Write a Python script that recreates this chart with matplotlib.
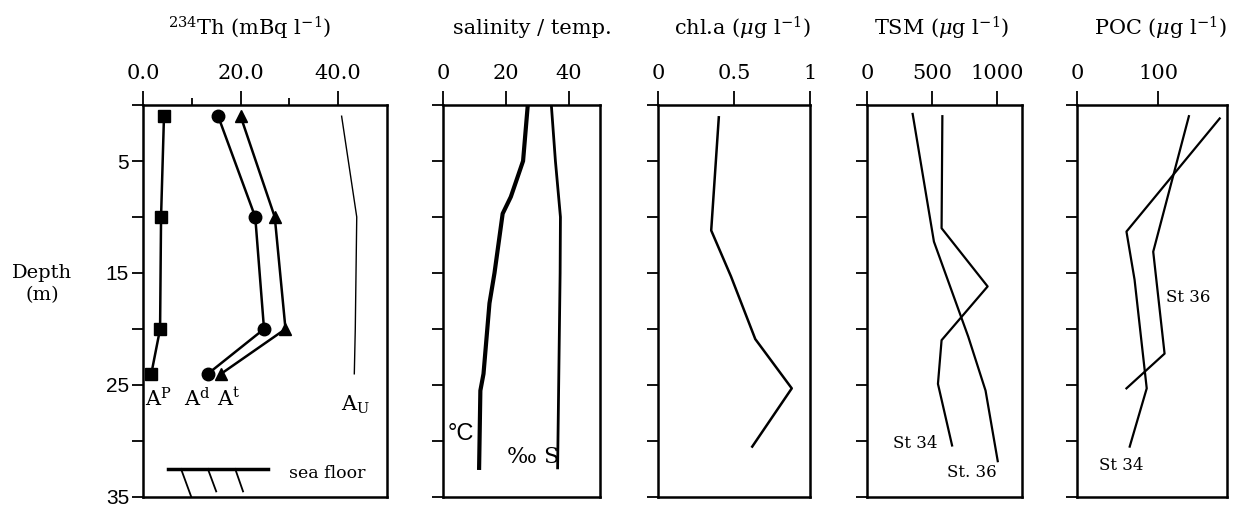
import matplotlib
matplotlib.use("Agg")
import matplotlib.pyplot as plt
from matplotlib.lines import Line2D

plt.rcParams["mathtext.fontset"] = "dejavuserif"

# ---------------- data ----------------
# 234Th panel
th_depth = [1, 10, 20, 24]
th_ap = [4.3, 3.7, 3.5, 1.7]
th_ad = [15.4, 23.0, 24.8, 13.3]
th_at = [20.0, 27.0, 29.2, 16.0]
au_depth = [1, 10, 20, 24]
au_val = [40.7, 43.8, 43.5, 43.3]

# salinity / temperature
temp_depth = [0, 5, 8.2, 9.7, 15, 17.7, 24, 25.5, 32.4]
temp_val = [27.0, 25.5, 21.6, 19.0, 16.4, 14.8, 12.9, 11.9, 11.5]
sal_depth = [0, 5, 10, 15, 32.4]
sal_val = [34.5, 35.8, 37.4, 37.3, 36.5]

# chl.a
chl_depth = [1.1, 11.2, 15.3, 20.9, 25.3, 30.5]
chl_val = [0.40, 0.35, 0.48, 0.64, 0.88, 0.62]

# TSM
tsm34_depth = [1, 11, 16.2, 21, 24.9, 30.4]
tsm34_val = [581, 575, 930, 575, 547, 656]
tsm36_depth = [0.8, 12.2, 20.7, 25.5, 31.8]
tsm36_val = [352, 516, 781, 914, 1008]

# POC
poc36_depth = [1, 13.1, 22.2, 25.3]
poc36_val = [138, 94, 108, 61]
poc34_depth = [1.2, 11.3, 15.6, 25.3, 30.5]
poc34_val = [176, 61, 71, 86, 65]

# sea floor symbol (depth of line, x extent, hatch strokes)
floor_depth = 32.5
floor_x = [5.1, 25.7]
floor_hatch = [(7.8, 9.9, 35.0), (13.3, 15.0, 34.5), (18.9, 20.5, 34.5)]

depth_ticks = [0, 5, 10, 15, 20, 25, 30, 35]

SERIF = "DejaVu Serif"
SANS = "Liberation Sans"

# ---------------- layout ----------------
W, H = 1240, 508
fig = plt.figure(figsize=(W / 100, H / 100), dpi=100)


def box(left, right, top=105, bottom=497):
    return [left / W, 1 - bottom / H, (right - left) / W, (bottom - top) / H]


def style(ax, xlim, major, minor=None, ylabels=False):
    ax.set_xlim(*xlim)
    ax.set_ylim(35, 0)
    ax.xaxis.tick_top()
    ax.set_xticks(major)
    if minor:
        ax.set_xticks(minor, minor=True)
    ax.set_yticks(depth_ticks)
    for s in ax.spines.values():
        s.set_linewidth(1.8)
    ax.tick_params(axis="x", which="major", direction="out", length=10, width=1.3,
                   pad=6, labelsize=15)
    ax.tick_params(axis="x", which="minor", direction="out", length=5, width=1.3)
    ax.tick_params(axis="y", direction="out", length=8, width=1.3, labelsize=15,
                   pad=2, labelleft=ylabels)
    for t in ax.get_xticklabels():
        t.set_fontfamily(SERIF)
    for t in ax.get_yticklabels():
        t.set_fontfamily(SANS)


# panel 1: 234Th
ax1 = fig.add_axes(box(143, 387))
ax1.plot(th_ap, th_depth, "-s", color="black", lw=1.8, ms=8)
ax1.plot(th_ad, th_depth, "-o", color="black", lw=1.8, ms=9)
ax1.plot(th_at, th_depth, "-^", color="black", lw=1.8, ms=9)
ax1.plot(au_val, au_depth, "-", color="black", lw=1.0)
style(ax1, (0, 50), [0, 20, 40], [10, 30], ylabels=True)
ax1.set_xticklabels(["0.0", "20.0", "40.0"])
ax1.set_yticklabels(["", "5", "", "15", "", "25", "", "35"])
ax1.text(0.4, 26.9, r"A$^\mathrm{P}$", fontsize=15, family=SERIF)
ax1.text(8.5, 26.9, r"A$^\mathrm{d}$", fontsize=15, family=SERIF)
ax1.text(15.2, 26.9, r"A$^\mathrm{t}$", fontsize=15, family=SERIF)
ax1.text(40.5, 27.3, r"A$_\mathrm{U}$", fontsize=15, family=SERIF)
ax1.add_line(Line2D(floor_x, [floor_depth, floor_depth], color="black", lw=2.5))
for x0, x1, d1 in floor_hatch:
    ax1.add_line(Line2D([x0, x1], [floor_depth, d1], color="black", lw=1.3))
ax1.text(30.0, 33.3, "sea floor", fontsize=12.5, family=SERIF)

# panel 2: salinity / temp
ax2 = fig.add_axes(box(443, 600))
ax2.plot(temp_val, temp_depth, "-", color="black", lw=3.0)
ax2.plot(sal_val, sal_depth, "-", color="black", lw=2.0)
style(ax2, (0, 50), [0, 20, 40])
ax2.text(1.5, 29.9, "°C", fontsize=17, family=SANS)
ax2.text(20.5, 32.0, "‰ S", fontsize=16, family=[SERIF])

# panel 3: chl.a
ax3 = fig.add_axes(box(658, 810))
ax3.plot(chl_val, chl_depth, "-", color="black", lw=1.8)
style(ax3, (0, 1), [0, 0.5, 1])
ax3.set_xticklabels(["0", "0.5", "1"])

# panel 4: TSM
ax4 = fig.add_axes(box(867, 1022))
ax4.plot(tsm34_val, tsm34_depth, "-", color="black", lw=1.6)
ax4.plot(tsm36_val, tsm36_depth, "-", color="black", lw=1.6)
style(ax4, (0, 1195), [0, 500, 1000])
ax4.text(200, 30.6, "St 34", fontsize=12, family=SERIF)
ax4.text(620, 33.2, "St. 36", fontsize=12, family=SERIF)

# panel 5: POC
ax5 = fig.add_axes(box(1077, 1227))
ax5.plot(poc36_val, poc36_depth, "-", color="black", lw=1.6)
ax5.plot(poc34_val, poc34_depth, "-", color="black", lw=1.6)
style(ax5, (0, 185), [0, 100])
ax5.text(110, 17.6, "St 36", fontsize=12, family=SERIF)
ax5.text(27, 32.6, "St 34", fontsize=12, family=SERIF)

# panel titles
tfs = 15
fig.text(250 / W, 1 - 28 / H, r"$^{234}$Th (mBq l$^{-1}$)", ha="center", va="center",
         fontsize=tfs, family=SERIF)
fig.text(532 / W, 1 - 28 / H, "salinity / temp.", ha="center", va="center",
         fontsize=tfs, family=SERIF)
fig.text(742 / W, 1 - 28 / H, r"chl.a ($\mu$g l$^{-1}$)", ha="center", va="center",
         fontsize=tfs, family=SERIF)
fig.text(942 / W, 1 - 28 / H, r"TSM ($\mu$g l$^{-1}$)", ha="center", va="center",
         fontsize=tfs, family=SERIF)
fig.text(1160 / W, 1 - 28 / H, r"POC ($\mu$g l$^{-1}$)", ha="center", va="center",
         fontsize=tfs, family=SERIF)

fig.text(42 / W, 1 - 284 / H, "Depth\n(m)", ha="center", va="center",
         fontsize=14, family=SERIF, linespacing=1.3)

fig.savefig("out.png", dpi=100, facecolor="white")
